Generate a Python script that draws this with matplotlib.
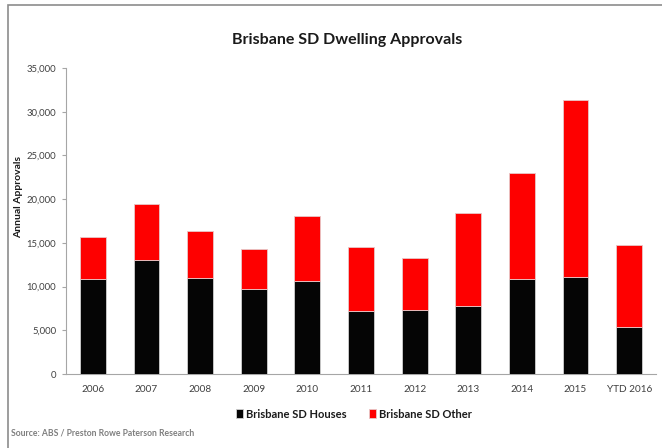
import matplotlib
matplotlib.use('Agg')
import matplotlib.pyplot as plt
import numpy as np
from matplotlib.patches import Rectangle

# values
years = ['2006', '2007', '2008', '2009', '2010', '2011', '2012', '2013', '2014', '2015', 'YTD 2016']
houses = [10830, 13040, 10940, 9690, 10670, 7240, 7320, 7740, 10830, 11060, 5410]
total = [15630, 19410, 16360, 14300, 18070, 14560, 13300, 18380, 23030, 31340, 14790]
other = [t - h for t, h in zip(total, houses)]

plt.rcParams['font.family'] = ['Lato', 'DejaVu Sans']

fig = plt.figure(figsize=(6.62, 4.48), dpi=100)
fig.patches.append(Rectangle((8/662, -0.1), 1.2, 1 - 5/448 + 0.1, transform=fig.transFigure,
                             fill=False, edgecolor='#8c8c8c', linewidth=1.2))

ax = fig.add_axes([66/662, 1 - 374/448, 590/662, 306/448])
x = np.arange(len(years))
w = 0.48
ax.bar(x, houses, w, color='#050505', edgecolor='#d0d0d0', linewidth=0.6, label='Brisbane SD Houses', zorder=3)
ax.bar(x, other, w, bottom=houses, color='#fe0000', edgecolor='#e8c8c8', linewidth=0.6, label='Brisbane SD Other', zorder=3)

ax.set_xlim(-0.5, len(years) - 0.5)
ax.set_ylim(0, 35000)
ax.set_yticks(np.arange(0, 35001, 5000))
ax.yaxis.set_major_formatter(matplotlib.ticker.FuncFormatter(lambda v, p: f'{int(v):,}'))
ax.set_xticks(x)
ax.set_xticklabels(years)
for s in ['top', 'right']:
    ax.spines[s].set_visible(False)
ax.spines['left'].set_color('#a6a6a6')
ax.spines['bottom'].set_color('#a6a6a6')
ax.tick_params(axis='y', colors='#a6a6a6', labelcolor='#404040', labelsize=6.8, length=3, pad=4, direction='out')
ax.tick_params(axis='x', length=0, labelcolor='#404040', labelsize=7.2, pad=8)

fig.text(347/662, 1 - 40/448, 'Brisbane SD Dwelling Approvals', ha='center', va='center',
         fontsize=11.5, fontweight='bold', color='#1a1a1a')
fig.text(19/662, 1 - 197/448, 'Annual Approvals', rotation=90, ha='center', va='center',
         fontsize=7.5, fontweight='bold', color='#1a1a1a')

leg = fig.legend(loc='center', bbox_to_anchor=(354/662, 1 - 414/448), ncol=2, frameon=False,
                 fontsize=8, handlelength=0.6, handleheight=0.9, handletextpad=0.3, columnspacing=2.0)
for t in leg.get_texts():
    t.set_fontweight('bold')
    t.set_color('#1a1a1a')

fig.text(11/662, 1 - 433/448, 'Source: ABS / Preston Rowe Paterson Research', ha='left', va='center',
         fontsize=6.2, fontweight='bold', color='#7f7f7f')

fig.savefig('out.png', dpi=100)
